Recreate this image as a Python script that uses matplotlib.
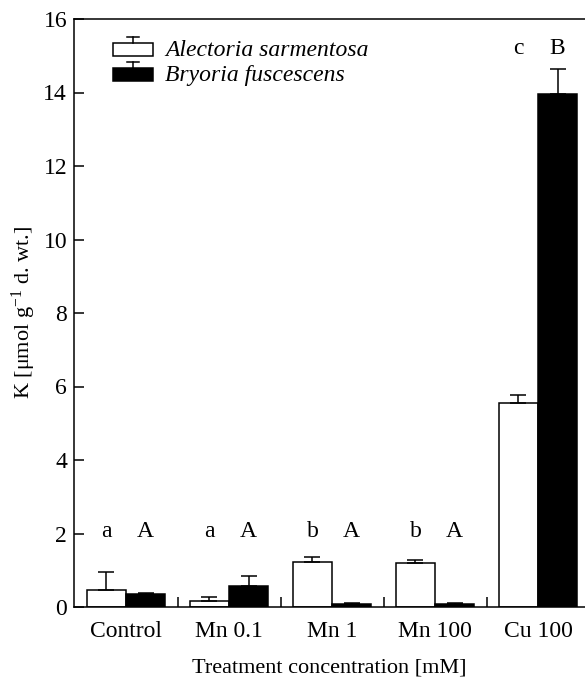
import matplotlib
matplotlib.use("Agg")
import matplotlib.pyplot as plt
from matplotlib.patches import Rectangle
import numpy as np

# K content after metal treatments, two lichen species
treatments = ["Control", "Mn 0.1", "Mn 1", "Mn 100", "Cu 100"]
alectoria = [0.47, 0.17, 1.23, 1.19, 5.55]
alectoria_err = [0.48, 0.10, 0.13, 0.09, 0.22]
bryoria = [0.35, 0.58, 0.09, 0.09, 13.95]
bryoria_err = [0.03, 0.25, 0.02, 0.02, 0.68]
letters_alectoria = ["a", "a", "b", "b", "c"]
letters_bryoria = ["A", "A", "A", "A", "B"]

plt.rcParams["font.family"] = ["Liberation Serif", "DejaVu Serif"]
plt.rcParams["mathtext.default"] = "regular"


def main():
    fig = plt.figure(figsize=(5.85, 6.84), dpi=100)
    ax = fig.add_axes([74 / 585, 1 - 607 / 684, 1 - 74 / 585, (607 - 19) / 684])

    x = np.arange(len(treatments))
    w = 0.38
    lw = 1.1
    ekw = dict(elinewidth=lw, capthick=lw, capsize=6, ecolor="black")

    ax.bar(x - w / 2, alectoria, w, color="white", edgecolor="black", linewidth=lw,
           yerr=[np.zeros(len(x)), alectoria_err], error_kw=ekw, zorder=2)
    ax.bar(x + w / 2, bryoria, w, color="black", edgecolor="black", linewidth=lw,
           yerr=[np.zeros(len(x)), bryoria_err], error_kw=ekw, zorder=2)

    # significance letters
    for i in range(len(x)):
        yl = 15.05 if i == len(x) - 1 else 1.9
        ax.text(x[i] - w / 2, yl, letters_alectoria[i], ha="center", va="baseline", fontsize=17)
        ax.text(x[i] + w / 2, yl, letters_bryoria[i], ha="center", va="baseline", fontsize=17)

    ax.set_xlim(-0.505, 4.456)
    ax.set_ylim(0, 16)
    ax.set_yticks(np.arange(0, 17, 2))
    ax.set_xticks(x)
    ax.set_xticklabels(treatments)
    ax.set_xticks(x[:-1] + 0.5, minor=True)
    ax.tick_params(axis="x", which="major", length=0, pad=10, labelsize=17)
    ax.tick_params(axis="x", which="minor", direction="in", length=7.2, width=lw)
    ax.tick_params(axis="y", direction="in", length=7.2, width=lw, pad=5, labelsize=17)
    ax.spines["right"].set_visible(False)
    for s in ["left", "bottom", "top"]:
        ax.spines[s].set_linewidth(lw)

    ax.set_xlabel("Treatment concentration [mM]", fontsize=16, labelpad=12)
    ax.set_ylabel("K [μmol g$^{-1}$ d. wt.]", fontsize=16, labelpad=4)

    # legend drawn by hand: box with an error bar on top
    def px(xp, yp):
        return (xp - 74) / 511, (607 - yp) / 588

    for (top, face, label) in [(43, "white", "Alectoria sarmentosa"),
                               (68, "black", "Bryoria fuscescens")]:
        x0, y0 = px(113, top + 13)
        x1, y1 = px(153, top)
        ax.add_patch(Rectangle((x0, y0), x1 - x0, y1 - y0, transform=ax.transAxes,
                               facecolor=face, edgecolor="black", linewidth=lw, clip_on=False))
        xc, _ = px(133, 0)
        _, yc = px(0, top - 6)
        ax.plot([xc, xc], [y1, yc], color="black", lw=lw, transform=ax.transAxes)
        xa, _ = px(127, 0)
        xb, _ = px(139, 0)
        ax.plot([xa, xb], [yc, yc], color="black", lw=lw, transform=ax.transAxes)
        tx, ty = px(165, top + 7)
        ax.text(tx, ty, label, transform=ax.transAxes, fontsize=17, style="italic",
                va="center", ha="left")

    fig.savefig("out.png", dpi=100)


if __name__ == "__main__":
    main()
